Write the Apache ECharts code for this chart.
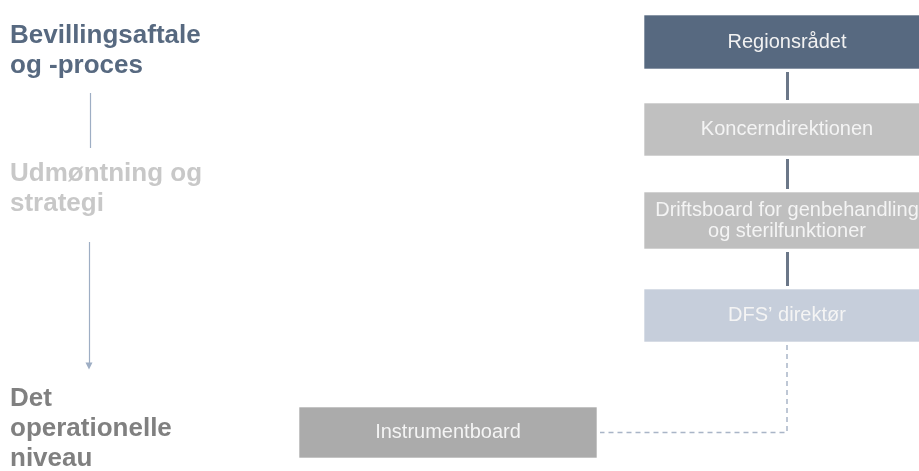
<!DOCTYPE html>
<html>
<head>
<meta charset="utf-8">
<script src="https://cdn.jsdelivr.net/npm/echarts@6/dist/echarts.min.js"></script>
<style>
html,body{margin:0;padding:0;background:#fff;}
#chart{width:919px;height:471px;}
</style>
</head>
<body>
<div id="chart"></div>
<script>
// ---- data: organisation structure ----
const nodeNames = ['Regionsrådet', 'Koncerndirektionen', 'Driftsboard for genbehandling\nog sterilfunktioner', 'DFS\u2019 direktør', 'Instrumentboard'];
const nodeLevel = [0, 1, 2, 3, 4];
const nodeParent = [-1, 0, 1, 2, 3];
const linkKind = ['', 'solid', 'solid', 'solid', 'dashed'];
const phaseLabels = ['Bevillingsaftale\nog -proces', 'Udmøntning og\nstrategi', 'Det\noperationelle\nniveau'];

// ---- layout (axis units) ----
const layout = {
  levelY: [42, 129.5, 220.5, 315.5, 432.5],
  nodeX: [787, 787, 787, 787, 448],
  nodeW: [286, 286, 286, 286, 298],
  nodeH: [54, 53, 57, 53, 51],
  phaseX: 10,
  phaseY: [51, 189, 429],
  gap: 3
};
const nodeColors = ['#576980', '#c0c0c0', '#bfbfbf', '#c6cedb', '#ababab'];
const phaseColors = ['#576980', '#c8c8c8', '#808080'];

const nodeData = nodeNames.map((n, i) => [layout.nodeX[i], layout.levelY[nodeLevel[i]], i]);
const phaseData = phaseLabels.map((p, i) => [layout.phaseX, layout.phaseY[i], i]);

const solidLinks = [], dashedLinks = [];
nodeParent.forEach((p, i) => {
  if (p < 0) return;
  const px = layout.nodeX[p], pb = layout.levelY[nodeLevel[p]] + layout.nodeH[p] / 2;
  const cy = layout.levelY[nodeLevel[i]], ct = cy - layout.nodeH[i] / 2;
  if (linkKind[i] === 'solid') {
    solidLinks.push({coords: [[px, pb + layout.gap], [px, ct - layout.gap]]});
  } else {
    const right = layout.nodeX[i] + layout.nodeW[i] / 2;
    dashedLinks.push({coords: [[px, pb + layout.gap], [px, cy], [right + layout.gap, cy]]});
  }
});

// phase arrows (between phase labels)
const phaseLinks = [
  {coords: [[90, 93], [90, 148]]}
];
const phaseArrow = [
  {coords: [[89, 242], [89, 366]]}
];

const chart = echarts.init(document.getElementById('chart'));
chart.setOption({
  animation: false,
  grid: {left: 0, right: 0, top: 0, bottom: 0},
  xAxis: {type: 'value', min: 0, max: 919, show: false},
  yAxis: {type: 'value', min: 0, max: 471, inverse: true, show: false},
  series: [
    {
      type: 'lines', coordinateSystem: 'cartesian2d', polyline: true,
      data: dashedLinks, symbol: 'none',
      lineStyle: {color: '#a9b5c7', width: 1.5, type: [5, 4], opacity: 1}
    },
    {
      type: 'lines', coordinateSystem: 'cartesian2d',
      data: solidLinks, symbol: 'none',
      lineStyle: {color: '#6b7788', width: 3, opacity: 1}
    },
    {
      type: 'lines', coordinateSystem: 'cartesian2d',
      data: phaseLinks, symbol: 'none',
      lineStyle: {color: '#9eaec4', width: 1.2, opacity: 1}
    },
    {
      type: 'lines', coordinateSystem: 'cartesian2d',
      data: phaseArrow, symbol: ['none', 'triangle'], symbolSize: [7, 7], symbolRotate: 180,
      lineStyle: {color: '#9eaec4', width: 1.2, opacity: 1}
    },
    {
      type: 'custom',
      data: nodeData,
      clip: true,
      renderItem: function (params, api) {
        const i = api.value(2);
        const c = api.coord([api.value(0), api.value(1)]);
        const s = api.size([layout.nodeW[i], layout.nodeH[i]]);
        return {
          type: 'rect',
          shape: {x: c[0] - s[0] / 2, y: c[1] - s[1] / 2, width: s[0], height: s[1]},
          style: {fill: nodeColors[i], stroke: 'rgba(255,255,255,0.6)', lineWidth: 1},
          textContent: {
            style: {
              text: nodeNames[i], fill: i === 0 ? '#f2f2f2' : '#f4f4f4',
              font: '20px "Liberation Sans", Arial, sans-serif',
              lineHeight: 21, align: 'center', verticalAlign: 'middle'
            }
          },
          textConfig: {position: 'inside'}
        };
      }
    },
    {
      type: 'custom',
      data: phaseData,
      renderItem: function (params, api) {
        const i = api.value(2);
        const c = api.coord([api.value(0), api.value(1)]);
        return {
          type: 'text',
          x: c[0], y: c[1],
          style: {
            text: phaseLabels[i], fill: phaseColors[i],
            font: 'bold 26px "Liberation Sans", Arial, sans-serif',
            lineHeight: 30, align: 'left', verticalAlign: 'middle'
          }
        };
      }
    }
  ]
});
</script>
</body>
</html>
